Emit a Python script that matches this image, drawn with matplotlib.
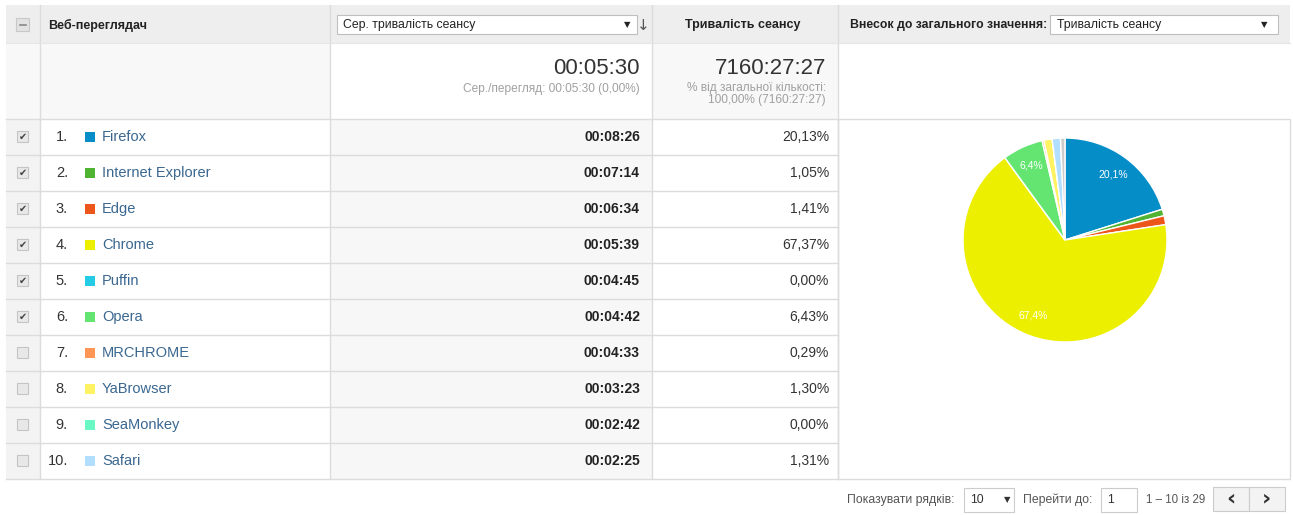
import matplotlib
matplotlib.use('Agg')
import matplotlib.pyplot as plt
from matplotlib.patches import Rectangle

plt.rcParams['font.family'] = ['Liberation Sans', 'DejaVu Sans']

# data
browsers = ['Firefox', 'Internet Explorer', 'Edge', 'Chrome', 'Puffin',
            'Opera', 'MRCHROME', 'YaBrowser', 'SeaMonkey', 'Safari']
avg_duration = ['00:08:26', '00:07:14', '00:06:34', '00:05:39', '00:04:45',
                '00:04:42', '00:04:33', '00:03:23', '00:02:42', '00:02:25']
share = [20.13, 1.05, 1.41, 67.37, 0.00, 6.43, 0.29, 1.30, 0.00, 1.31]
checked = [True, True, True, True, True, True, False, False, False, False]
colors = ['#058dc7', '#50b432', '#ed561b', '#edef00', '#24cbe5',
          '#64e572', '#ff9655', '#fff263', '#6af9c4', '#b2deff']
other_share = 100 - sum(share)
other_color = '#cccccc'

col_header = ['Веб-переглядач', 'Сер. тривалість сеансу', 'Тривалість сеансу',
              'Внесок до загального значення:']
total_avg = '00:05:30'
total_avg_sub = 'Сер./перегляд: 00:05:30 (0,00%)'
total_dur = '7160:27:27'
total_dur_sub = '% від загальної кількості:\n100,00% (7160:27:27)'

W, H = 1293, 515
fig = plt.figure(figsize=(W / 100, H / 100), dpi=100)
ax = fig.add_axes([0, 0, 1, 1])
ax.set_xlim(0, W)
ax.set_ylim(H, 0)
ax.axis('off')

grid = '#dcdcdc'
x0, x1, x2, x3, x4, x5 = 6, 40, 330, 652, 838, 1290
y_head, y_sum, y_rows = 5, 43, 119
row_h = 36
n = len(browsers)
y_end = y_rows + n * row_h

# header background
ax.add_patch(Rectangle((x0, y_head), x5 - x0, y_sum - y_head, fc='#eeeeee', ec='none'))
# summary row
ax.add_patch(Rectangle((x0, y_sum), x3 - x0, y_rows - y_sum, fc='#f8f8f8', ec='none'))
ax.add_patch(Rectangle((x2, y_sum), x3 - x2, y_rows - y_sum, fc='white', ec='none'))
ax.add_patch(Rectangle((x3, y_sum), x4 - x3, y_rows - y_sum, fc='#f8f8f8', ec='none'))
# checkbox column + sorted column in data rows
ax.add_patch(Rectangle((x0, y_rows), x1 - x0, y_end - y_rows, fc='#f3f3f3', ec='none'))
ax.add_patch(Rectangle((x2, y_rows), x3 - x2, y_end - y_rows, fc='#f7f7f7', ec='none'))

# grid lines
for xv in [x1, x2, x3, x4]:
    ax.plot([xv, xv], [y_head, y_end], color=grid, lw=1)
ax.plot([x0, x5], [y_sum, y_sum], color='#e6e6e6', lw=0.8)
for i in range(n + 1):
    y = y_rows + i * row_h
    ax.plot([x0, x4], [y, y], color=grid, lw=1)
ax.add_patch(Rectangle((x4, y_rows), x5 - x4, y_end - y_rows, fc='none', ec=grid, lw=1))

# header contents
ax.add_patch(Rectangle((16, 18), 13, 13, fc='#e2e2e2', ec='#c8c8c8', lw=0.8))
ax.plot([19.5, 25.5], [24.5, 24.5], color='#888888', lw=1.2)
ax.text(48, 25, col_header[0], fontsize=9, fontweight='bold', color='#222222', va='center')
ax.add_patch(Rectangle((337, 15), 300, 19, fc='white', ec='#bfbfbf', lw=0.8))
ax.text(343, 25, col_header[1], fontsize=8.8, color='#222222', va='center')
ax.text(627, 25, '▼', fontsize=6, color='#222222', va='center', ha='center', family='DejaVu Sans')
ax.text(643, 25, '↓', fontsize=11, color='#555555', va='center', ha='center', family='DejaVu Sans')
ax.text(743, 25, col_header[2], fontsize=9, fontweight='bold', color='#222222',
        va='center', ha='center')
ax.text(850, 25, col_header[3], fontsize=8.8, fontweight='bold', color='#222222', va='center')
ax.add_patch(Rectangle((1050, 15), 228, 19, fc='white', ec='#bfbfbf', lw=0.8))
ax.text(1057, 25, col_header[2], fontsize=8.8, color='#222222', va='center')
ax.text(1264, 25, '▼', fontsize=6, color='#222222', va='center', ha='center', family='DejaVu Sans')

# summary contents
ax.text(640, 68, total_avg, fontsize=16, color='#333333', ha='right', va='center')
ax.text(640, 89, total_avg_sub, fontsize=8.6, color='#a0a0a0', ha='right', va='center')
ax.text(826, 68, total_dur, fontsize=16, color='#333333', ha='right', va='center')
ax.text(826, 94, total_dur_sub, fontsize=8.6, color='#a0a0a0', ha='right', va='center',
        multialignment='right', linespacing=1.05)

# rows
for i in range(n):
    yc = y_rows + i * row_h + row_h / 2
    ax.add_patch(Rectangle((17, yc - 6), 11, 11, fc='#e8e8e8', ec='#c4c4c4', lw=0.8))
    if checked[i]:
        ax.text(22.5, yc - 0.5, '✔', fontsize=7, color='#444444', ha='center', va='center',
                family='DejaVu Sans')
    ax.text(68, yc, f'{i + 1}.', fontsize=10.5, color='#333333', ha='right', va='center')
    ax.add_patch(Rectangle((85, yc - 5), 10, 10, fc=colors[i], ec='none'))
    ax.text(102, yc, browsers[i], fontsize=10.5, color='#3a6790', va='center')
    ax.text(640, yc, avg_duration[i], fontsize=10, fontweight='bold', color='#222222',
            ha='right', va='center')
    ax.text(829, yc, f'{share[i]:.2f}%'.replace('.', ','), fontsize=10, color='#333333',
            ha='right', va='center')

# footer
ax.text(847, 500, 'Показувати рядків:', fontsize=8.8, color='#555555', va='center')
ax.add_patch(Rectangle((964, 488), 50, 24, fc='white', ec='#cccccc', lw=0.8))
ax.text(970, 500, '10', fontsize=8.8, color='#333333', va='center')
ax.text(1007, 500, '▼', fontsize=6, color='#333333', va='center', ha='center', family='DejaVu Sans')
ax.text(1023, 500, 'Перейти до:', fontsize=8.8, color='#555555', va='center')
ax.add_patch(Rectangle((1101, 488), 36, 24, fc='white', ec='#cccccc', lw=0.8))
ax.text(1107, 500, '1', fontsize=8.8, color='#333333', va='center')
ax.text(1146, 500, '1 – 10 із 29', fontsize=8.3, color='#555555', va='center')
ax.add_patch(Rectangle((1213, 487), 36, 24, fc='#f3f3f3', ec='#cccccc', lw=0.8))
ax.add_patch(Rectangle((1249, 487), 36, 24, fc='#f3f3f3', ec='#cccccc', lw=0.8))
ax.text(1231, 498, '‹', fontsize=16, fontweight='bold', color='#333333', va='center', ha='center',
        family='DejaVu Sans')
ax.text(1267, 498, '›', fontsize=16, fontweight='bold', color='#333333', va='center', ha='center',
        family='DejaVu Sans')

# pie
cx, cy, r = 1065, 240, 103
pax = fig.add_axes([(cx - r) / W, (H - cy - r) / H, 2 * r / W, 2 * r / H])
pie_vals = share + [other_share]
pie_cols = colors + [other_color]


def pct_label(p):
    return f'{p:.1f}%'.replace('.', ',') if p > 5 else ''


wedges, texts, autotexts = pax.pie(pie_vals, colors=pie_cols, startangle=90, counterclock=False,
                                   autopct=pct_label, pctdistance=0.8,
                                   wedgeprops=dict(edgecolor='white', linewidth=1))
for t in autotexts:
    t.set_color('white')
    t.set_fontsize(7.5)
pax.set_xlim(-1.01, 1.01)
pax.set_ylim(-1.01, 1.01)
pax.set_aspect('equal')
pax.axis('off')

fig.savefig('out.png', dpi=100)
